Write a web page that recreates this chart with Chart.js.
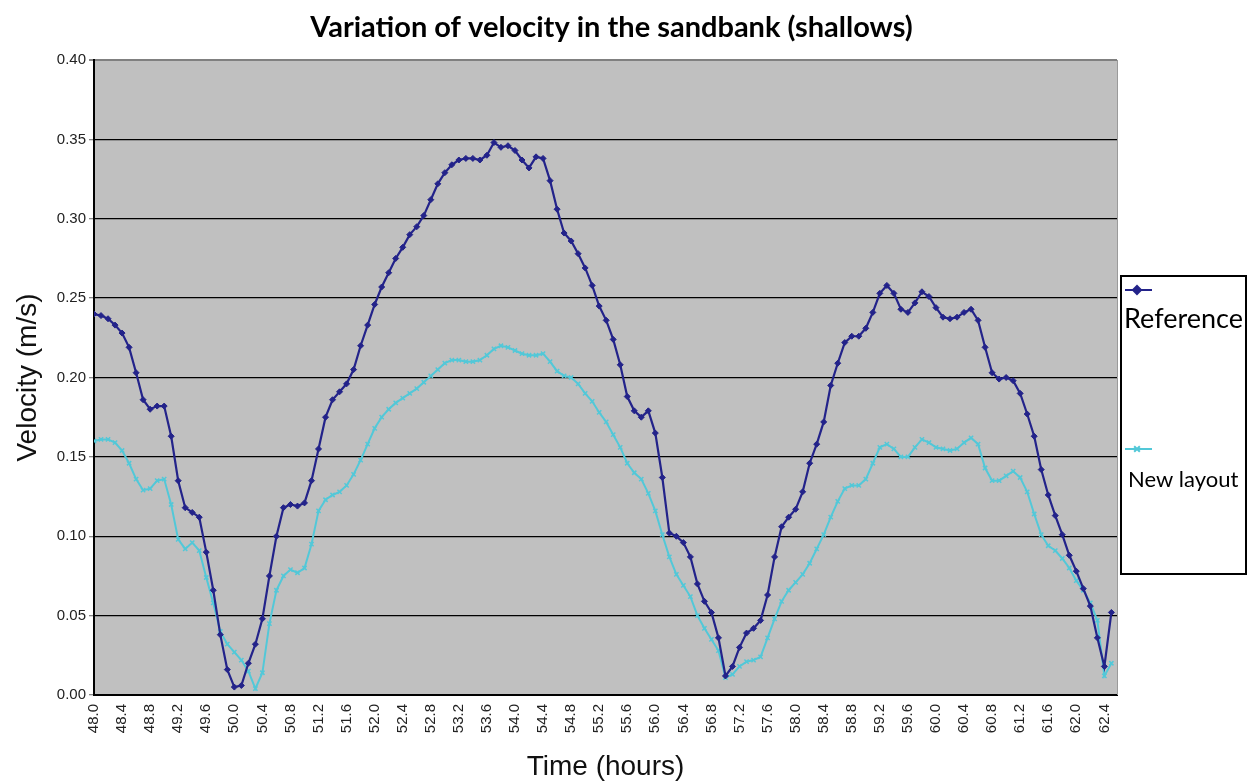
<!DOCTYPE html>
<html>
<head>
<meta charset="utf-8">
<title>Variation of velocity in the sandbank (shallows)</title>
<script src="https://cdn.jsdelivr.net/npm/chart.js@4/dist/chart.umd.min.js"></script>
<style>
  html, body { margin: 0; padding: 0; background: #fff; }
  #wrap { width: 1249px; height: 784px; }
</style>
</head>
<body>
<div id="wrap"><canvas id="chartVel" width="1249" height="784"></canvas></div>
<script>
// --- datos (una muestra cada 0.1 h, desde 48.0 h) ---
const startHour = 48.0;
const stepHour = 0.1;

const refVelocity = [
  0.240, 0.239, 0.237, 0.233, 0.228, 0.219, 0.203, 0.186, 0.180, 0.182, // 48
  0.182, 0.163, 0.135, 0.118, 0.115, 0.112, 0.090, 0.066, 0.038, 0.016, // 49
  0.005, 0.006, 0.020, 0.032, 0.048, 0.075, 0.100, 0.118, 0.120, 0.119, // 50
  0.121, 0.135, 0.155, 0.175, 0.186, 0.191, 0.196, 0.205, 0.220, 0.233, // 51
  0.246, 0.257, 0.266, 0.275, 0.282, 0.290, 0.295, 0.302, 0.312, 0.322, // 52
  0.329, 0.334, 0.337, 0.338, 0.338, 0.337, 0.340, 0.348, 0.345, 0.346, // 53
  0.343, 0.337, 0.332, 0.339, 0.338, 0.324, 0.306, 0.291, 0.286, 0.278, // 54
  0.269, 0.258, 0.245, 0.236, 0.224, 0.208, 0.188, 0.179, 0.175, 0.179, // 55
  0.165, 0.137, 0.102, 0.100, 0.096, 0.087, 0.070, 0.059, 0.052, 0.036, // 56
  0.012, 0.018, 0.030, 0.039, 0.042, 0.047, 0.063, 0.087, 0.106, 0.112, // 57
  0.117, 0.128, 0.146, 0.158, 0.172, 0.195, 0.209, 0.222, 0.226, 0.226, // 58
  0.231, 0.241, 0.253, 0.258, 0.253, 0.243, 0.241, 0.247, 0.254, 0.251, // 59
  0.244, 0.238, 0.237, 0.238, 0.241, 0.243, 0.236, 0.219, 0.203, 0.199, // 60
  0.200, 0.198, 0.190, 0.177, 0.163, 0.142, 0.126, 0.113, 0.101, 0.088, // 61
  0.078, 0.067, 0.056, 0.036, 0.018, 0.052                              // 62
];

const newVelocity = [
  0.160, 0.161, 0.161, 0.159, 0.154, 0.146, 0.136, 0.129, 0.130, 0.135, // 48
  0.136, 0.120, 0.098, 0.092, 0.096, 0.091, 0.074, 0.058, 0.040, 0.032, // 49
  0.027, 0.022, 0.015, 0.004, 0.014, 0.045, 0.066, 0.075, 0.079, 0.077, // 50
  0.080, 0.095, 0.116, 0.123, 0.126, 0.128, 0.132, 0.139, 0.148, 0.158, // 51
  0.168, 0.175, 0.180, 0.184, 0.187, 0.190, 0.193, 0.197, 0.201, 0.205, // 52
  0.209, 0.211, 0.211, 0.210, 0.210, 0.211, 0.214, 0.218, 0.220, 0.219, // 53
  0.217, 0.215, 0.214, 0.214, 0.215, 0.210, 0.204, 0.201, 0.200, 0.196, // 54
  0.190, 0.185, 0.178, 0.172, 0.164, 0.156, 0.146, 0.140, 0.136, 0.127, // 55
  0.116, 0.101, 0.087, 0.076, 0.069, 0.062, 0.050, 0.042, 0.035, 0.028, // 56
  0.011, 0.013, 0.018, 0.021, 0.022, 0.024, 0.036, 0.048, 0.059, 0.066, // 57
  0.071, 0.076, 0.083, 0.092, 0.101, 0.112, 0.122, 0.130, 0.132, 0.132, // 58
  0.136, 0.146, 0.156, 0.158, 0.155, 0.150, 0.150, 0.156, 0.161, 0.159, // 59
  0.156, 0.155, 0.154, 0.155, 0.159, 0.162, 0.158, 0.143, 0.135, 0.135, // 60
  0.138, 0.141, 0.137, 0.128, 0.114, 0.101, 0.094, 0.091, 0.086, 0.080, // 61
  0.072, 0.066, 0.058, 0.047, 0.012, 0.020                              // 62
];

const timeTicks = [
  48.0, 48.4, 48.8, 49.2, 49.6, 50.0, 50.4, 50.8, 51.2, 51.6,
  52.0, 52.4, 52.8, 53.2, 53.6, 54.0, 54.4, 54.8, 55.2, 55.6,
  56.0, 56.4, 56.8, 57.2, 57.6, 58.0, 58.4, 58.8, 59.2, 59.6,
  60.0, 60.4, 60.8, 61.2, 61.6, 62.0, 62.4
];
const velocityTicks = [0.00, 0.05, 0.10, 0.15, 0.20, 0.25, 0.30, 0.35, 0.40];

const seriesNames = ['Reference', 'New layout'];
const chartTitle = 'Variation of velocity in the sandbank (shallows)';

const NAVY = '#23238a';
const CYAN = '#52c8d8';
const AXIS_FONT = 'Arial, "Liberation Sans", sans-serif';

// pasar a pares {x, y}
const toPoints = (arr) => arr.map((v, i) => ({ x: +(startHour + i * stepHour).toFixed(1), y: v }));

// --- plugin: fondo gris, titulo, borde derecho y leyenda en caja ---
const panelPlugin = {
    id: 'panel',
    beforeDraw(chart) {
        const { ctx, chartArea: a } = chart;
        ctx.save();
        ctx.fillStyle = '#c0c0c0';
        ctx.fillRect(a.left, a.top, a.right - a.left, a.bottom - a.top);
        ctx.restore();
    },
    afterDraw(chart) {
        const { ctx, chartArea: a } = chart;
        ctx.save();

        // borde derecho gris
        ctx.strokeStyle = '#9a9a9a';
        ctx.lineWidth = 1;
        ctx.beginPath();
        ctx.moveTo(a.right + 0.5, a.top);
        ctx.lineTo(a.right + 0.5, a.bottom);
        ctx.stroke();

        // titulo
        ctx.fillStyle = '#000';
        ctx.font = 'bold 29px Lato, "Noto Sans", sans-serif';
        ctx.textAlign = 'center';
        ctx.textBaseline = 'middle';
        ctx.fillText(chartTitle, (a.left + a.right) / 2 + 6, 28);

        // leyenda
        const box = { x: 1121, y: 276, w: 125, h: 298 };
        ctx.fillStyle = '#fff';
        ctx.fillRect(box.x, box.y, box.w, box.h);
        ctx.strokeStyle = '#000';
        ctx.lineWidth = 2;
        ctx.strokeRect(box.x, box.y, box.w, box.h);

        const items = [
            { ds: chart.data.datasets[0], lineY: 290, textY: 319, textX: 1124, size: 27 },
            { ds: chart.data.datasets[1], lineY: 449, textY: 480, textX: 1128, size: 22 }
        ];
        items.forEach(it => {
            ctx.strokeStyle = it.ds.borderColor;
            ctx.fillStyle = it.ds.borderColor;
            ctx.lineWidth = 2;
            ctx.beginPath();
            ctx.moveTo(1125, it.lineY);
            ctx.lineTo(1152, it.lineY);
            ctx.stroke();
            Chart.helpers.drawPoint(ctx, {
                pointStyle: it.ds.pointStyle,
                radius: 4,
                rotation: 0,
                borderWidth: 1.5
            }, 1137, it.lineY);
            ctx.fillStyle = '#000';
            ctx.font = it.size + 'px Lato, "Noto Sans", sans-serif';
            ctx.textAlign = 'left';
            ctx.textBaseline = 'middle';
            ctx.fillText(it.ds.label, it.textX, it.textY);
        });
        ctx.restore();
    }
};

const ctxVel = document.getElementById('chartVel').getContext('2d');

window.chartVel = new Chart(ctxVel, {
    type: 'line',
    data: {
        datasets: [
            {
                label: seriesNames[0],
                data: toPoints(refVelocity),
                borderColor: NAVY,
                backgroundColor: NAVY,
                borderWidth: 2.2,
                pointStyle: 'rectRot',
                pointRadius: 3,
                pointBorderWidth: 1,
                tension: 0
            },
            {
                label: seriesNames[1],
                data: toPoints(newVelocity),
                borderColor: CYAN,
                backgroundColor: CYAN,
                borderWidth: 2,
                pointStyle: 'crossRot',
                pointRadius: 3,
                pointBorderWidth: 1.5,
                tension: 0
            }
        ]
    },
    options: {
        responsive: false,
        animation: false,
        layout: { padding: { top: 60, right: 132, left: 0, bottom: 0 } },
        plugins: {
            legend: { display: false },
            title: { display: false },
            tooltip: { enabled: false }
        },
        scales: {
            x: {
                type: 'linear',
                min: 48.0,
                max: 62.58,
                afterBuildTicks: (scale) => { scale.ticks = timeTicks.map(v => ({ value: v })); },
                afterFit: (scale) => { scale.height = 89; },
                ticks: {
                    autoSkip: false,
                    minRotation: 90,
                    maxRotation: 90,
                    padding: 9,
                    color: '#222',
                    font: { family: AXIS_FONT, size: 15 },
                    callback: (v) => Number(v).toFixed(1)
                },
                grid: { display: false, drawTicks: false },
                border: { display: true, color: '#000', width: 2 },
                title: {
                    display: true,
                    text: 'Time (hours)',
                    color: '#111',
                    font: { family: AXIS_FONT, size: 28 },
                    padding: { top: 0, bottom: 0 }
                }
            },
            y: {
                min: 0,
                max: 0.40,
                afterBuildTicks: (scale) => { scale.ticks = velocityTicks.map(v => ({ value: v })); },
                afterFit: (scale) => { scale.width = 94; },
                ticks: {
                    padding: 3,
                    color: '#222',
                    font: { family: AXIS_FONT, size: 15 },
                    callback: (v) => Number(v).toFixed(2)
                },
                grid: {
                    color: (c) => (c.tick && Math.abs(c.tick.value - 0.40) < 1e-6) ? '#808080' : '#000',
                    lineWidth: (c) => (c.tick && Math.abs(c.tick.value - 0.40) < 1e-6) ? 2 : 1.3,
                    tickColor: '#888',
                    tickLength: 5
                },
                border: { display: true, color: '#000', width: 2 },
                title: {
                    display: true,
                    text: 'Velocity (m/s)',
                    color: '#111',
                    font: { family: AXIS_FONT, size: 28 },
                    padding: { top: 11, bottom: 0 }
                }
            }
        }
    },
    plugins: [panelPlugin]
});
</script>
</body>
</html>
